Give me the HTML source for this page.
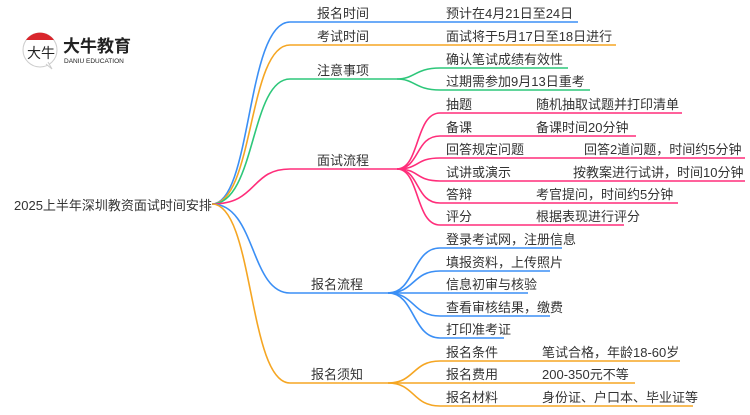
<!DOCTYPE html>
<html><head><meta charset="utf-8"><style>
html,body{margin:0;padding:0;background:#fff;}
svg text{font-family:"Liberation Sans","Noto Sans CJK SC",sans-serif;font-size:13px;fill:#333;}
</style></head><body>
<svg width="750" height="410" viewBox="0 0 750 410" xmlns="http://www.w3.org/2000/svg">
<g fill="none" stroke-width="1.6">
<path d="M212,204 C252,204 246,22 290,22 L578,22" stroke="#3b8ff5"/>
<path d="M212,204 C254,204 248,45 290,45 L616,45" stroke="#f5a623"/>
<path d="M212,204 C256,204 250,79 290,79 L397,79" stroke="#2dc77a"/>
<path d="M212,204 C258,204 250,169 290,169 L397,169" stroke="#ff2d7a"/>
<path d="M212,204 C256,204 250,293 290,293 L388,293" stroke="#3b8ff5"/>
<path d="M212,204 C254,204 248,383 290,383 L388,383" stroke="#f5a623"/>
<g stroke="#2dc77a">
<path d="M397,79 C415,79 415,68 440,68 L568,68"/>
<path d="M397,79 C415,79 415,90 440,90 L590,90"/>
</g>
<g stroke="#ff2d7a">
<path d="M397,169 C420,169 415,113 440,113 L682,113"/>
<path d="M397,169 C420,169 415,136 440,136 L636,136"/>
<path d="M397,169 C420,169 415,158 440,158 L745,158"/>
<path d="M397,169 C420,169 415,181 440,181 L745,181"/>
<path d="M397,169 C420,169 415,203 440,203 L678,203"/>
<path d="M397,169 C420,169 415,225 440,225 L624,225"/>
</g>
<g stroke="#3b8ff5">
<path d="M388,293 C415,293 412,248 440,248 L562,248"/>
<path d="M388,293 C415,293 412,271 440,271 L550,271"/>
<path d="M388,293 L528,293"/>
<path d="M388,293 C415,293 412,316 440,316 L550,316"/>
<path d="M388,293 C415,293 412,338 440,338 L504,338"/>
</g>
<g stroke="#f5a623">
<path d="M388,383 C415,383 412,361 440,361 L680,361"/>
<path d="M388,383 L635,383"/>
<path d="M388,383 C415,383 412,406 440,406 L693,406"/>
</g>
</g>
<!-- logo -->
<circle cx="40" cy="50" r="17" fill="#fff" stroke="#ccc" stroke-width="1"/>
<path d="M26,40 A17,17 0 0 1 54,40 Z" fill="#d9262c"/>
<path d="M46,64 L52,69 L48,62" fill="#fff" stroke="#ccc" stroke-width="1"/>
<text x="27" y="58" style="font-size:14px;fill:#222;">大牛</text>
<text x="63" y="52" style="font-size:17px;font-weight:bold;fill:#222">大牛教育</text>
<text x="64" y="63" style="font-size:6.5px;fill:#222">DANIU EDUCATION</text>
<text x="14" y="210">2025上半年深圳教资面试时间安排</text>
<text x="317" y="18">报名时间</text>
<text x="317" y="41">考试时间</text>
<text x="317" y="75">注意事项</text>
<text x="317" y="165">面试流程</text>
<text x="311" y="289">报名流程</text>
<text x="311" y="379">报名须知</text>
<text x="446" y="18">预计在4月21日至24日</text>
<text x="446" y="41">面试将于5月17日至18日进行</text>
<text x="446" y="64">确认笔试成绩有效性</text>
<text x="446" y="86">过期需参加9月13日重考</text>
<text x="446" y="109">抽题</text><text x="536" y="109">随机抽取试题并打印清单</text>
<text x="446" y="132">备课</text><text x="536" y="132">备课时间20分钟</text>
<text x="446" y="154">回答规定问题</text><text x="584" y="154">回答2道问题，时间约5分钟</text>
<text x="446" y="177">试讲或演示</text><text x="573" y="177">按教案进行试讲，时间10分钟</text>
<text x="446" y="199">答辩</text><text x="536" y="199">考官提问，时间约5分钟</text>
<text x="446" y="221">评分</text><text x="536" y="221">根据表现进行评分</text>
<text x="446" y="244">登录考试网，注册信息</text>
<text x="446" y="267">填报资料，上传照片</text>
<text x="446" y="289">信息初审与核验</text>
<text x="446" y="312">查看审核结果，缴费</text>
<text x="446" y="334">打印准考证</text>
<text x="446" y="357">报名条件</text><text x="542" y="357">笔试合格，年龄18-60岁</text>
<text x="446" y="379">报名费用</text><text x="542" y="379">200-350元不等</text>
<text x="446" y="402">报名材料</text><text x="542" y="402">身份证、户口本、毕业证等</text>
</svg>
</body></html>
